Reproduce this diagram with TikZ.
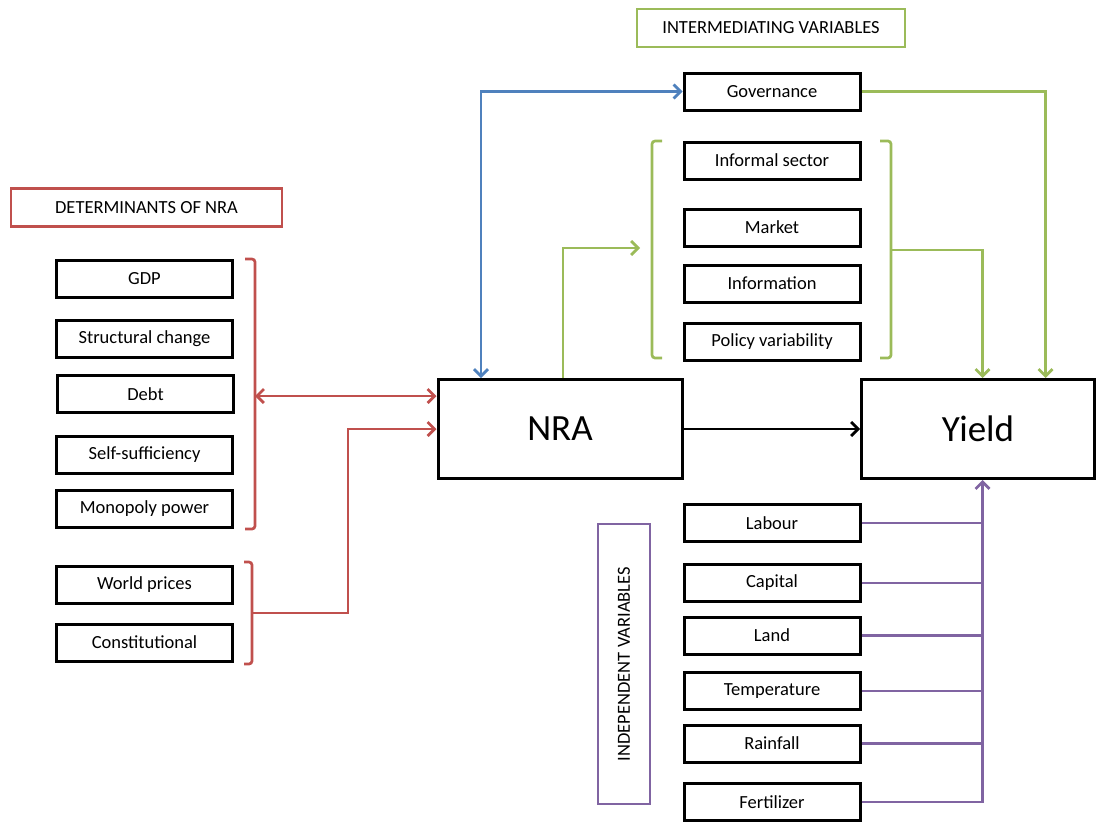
\documentclass[tikz,border=0pt]{standalone}
\usepackage{fontspec}
\setmainfont{Carlito}
\usepackage{tikz}
\usetikzlibrary{arrows.meta,positioning}
\definecolor{detred}{HTML}{C0504D}
\definecolor{intgreen}{HTML}{9BBB59}
\definecolor{govblue}{HTML}{4F81BD}
\definecolor{indpurple}{HTML}{8064A2}

\begin{document}
\begin{tikzpicture}[x=1pt, y=-1pt, >={Straight Barb[length=7pt,width=14pt]},
  every node/.style={font=\fontsize{18.5}{22}\selectfont},
  varbox/.style={draw, line width=3pt, minimum width=176pt, minimum height=37pt, inner sep=0pt},
  bigbox/.style={draw, line width=3pt, minimum height=99pt, inner sep=0pt, font=\fontsize{37}{44}\selectfont},
  headbox/.style={draw, line width=2.5pt, minimum height=38pt, inner sep=0pt},
  link/.style={line width=2.7pt}]
\useasboundingbox (0,0) rectangle (1097,823);

% headings
\node[headbox, draw=detred, minimum width=271pt] (dethead) at (146.5,207.5) {DETERMINANTS OF NRA};
\node[headbox, draw=intgreen, minimum width=268pt] (inthead) at (771,28) {INTERMEDIATING VARIABLES};
\node[headbox, draw=indpurple, rotate=90, minimum width=280pt, minimum height=52pt] (indhead) at (624,664) {INDEPENDENT VARIABLES};

% main boxes
\node[bigbox, minimum width=244pt] (nra) at (560,429) {NRA};
\node[bigbox, minimum width=233pt] (yield) at (978,429) {Yield};

% determinants
\node[varbox] (gdp) at (144.5,279) {GDP};
\node[varbox] (struct) at (144.5,339) {Structural change};
\node[varbox] (debt) at (145.5,394) {Debt};
\node[varbox] (selfsuff) at (144.5,455) {Self-sufficiency};
\node[varbox] (monopoly) at (144.5,508.5) {Monopoly power};
\node[varbox] (world) at (144.5,584.5) {World prices};
\node[varbox] (constit) at (144.5,642.5) {Constitutional};

% intermediating
\node[varbox] (gov) at (772,91.5) {Governance};
\node[varbox] (informal) at (772,160.5) {Informal sector};
\node[varbox] (market) at (772,227.5) {Market};
\node[varbox] (info) at (772,283.5) {Information};
\node[varbox] (policy) at (772,342) {Policy variability};

% independent
\node[varbox] (labour) at (772,523) {Labour};
\node[varbox] (capital) at (772,583) {Capital};
\node[varbox] (land) at (772,635.5) {Land};
\node[varbox] (temp) at (772,691) {Temperature};
\node[varbox] (rain) at (772,743.5) {Rainfall};
\node[varbox] (fert) at (772,802) {Fertilizer};

% red brackets
\draw[link, detred, rounded corners=3pt] (245,259) -- (255,259) -- (255,529) -- (245,529);
\coordinate (detmid) at (255,396);
\draw[link, detred, <->] (detmid) -- (detmid -| nra.west);
\draw[link, detred, rounded corners=3pt] (244,562) -- (252,562) -- (252,664) -- (244,664);
\coordinate (extmid) at (252,613);
\draw[link, detred, ->] (extmid) -- ++(96,0) |- (nra.west);

% green brackets
\draw[link, intgreen, rounded corners=3pt] (662,141) -- (652,141) -- (652,358) -- (662,358);
\coordinate (intin) at (652,248);
\draw[link, intgreen, ->, shorten >=12pt] ([xshift=3pt]nra.north) |- (intin);
\draw[link, intgreen, rounded corners=3pt] (880,141) -- (891,141) -- (891,358) -- (880,358);
\coordinate (intout) at (891,250);
\draw[link, intgreen, ->] (intout) -| ([xshift=4.5pt]yield.north);
\draw[link, intgreen, ->] (gov.east) -| ([xshift=67.5pt]yield.north);

% governance and nra
\draw[link, govblue, <->] ([xshift=-79pt]nra.north) |- (gov.west);
\draw[link, ->] (nra.east) -- (yield.west);

% purple trunk
\coordinate (trunk) at ([xshift=4.5pt]yield.south);
\draw[link, indpurple, ->] (fert.east) -| (trunk);
\foreach \v in {labour,capital,land,temp,rain}
  \draw[link, indpurple] (\v.east) -- (\v.east -| trunk);
\end{tikzpicture}
\end{document}
